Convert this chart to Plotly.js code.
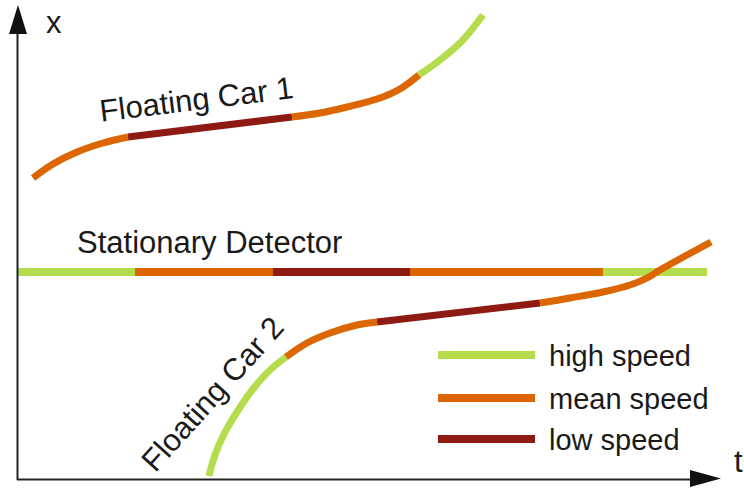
<!DOCTYPE html>
<html><head><meta charset="utf-8">
<script src="https://cdn.plot.ly/plotly-3.0.1.min.js"></script>
<style>html,body{margin:0;padding:0;background:#fff}#chart{width:744px;height:489px}</style>
</head><body><div id="chart"></div>
<script>
// Speed classes
const speedNames = ["high speed", "mean speed", "low speed"];
const speedColors = ["#b5dc4c", "#dc6602", "#8e1a14"];

// Floating Car 1 trajectory segments (t, x) with speed class index
const car1T = [[33, 53, 77, 103, 128], [128, 292], [292, 320, 347, 380, 400, 419], [419, 440, 460, 473, 483]];
const car1X = [[178, 164, 152, 143, 137], [137, 117], [117, 113, 107, 98, 89, 75], [75, 60, 43, 28, 15]];
const car1Speed = [1, 2, 1, 0];

// Stationary detector segments
const detT = [[18, 135], [135, 273], [273, 410], [410, 603], [603, 707]];
const detX = [[272, 272], [272, 272], [272, 272], [272, 272], [272, 272]];
const detSpeed = [0, 1, 2, 1, 0];

// Floating Car 2 trajectory segments
const car2T = [[209, 211, 215, 223, 237, 253, 270, 286], [286, 307, 330, 357, 377], [377, 540], [540, 570, 603, 630, 647, 660, 687, 711]];
const car2X = [[476, 468, 455, 436, 412, 389, 370, 357], [357, 343, 333, 325, 322], [322, 303], [303, 298, 292, 285, 278, 270, 255, 242]];
const car2Speed = [0, 1, 2, 1];

// Legend rows
const legendT = [438, 535];
const legendX = [355, 398, 439];

const traces = [];
function addSegs(T, X, S, w) {
  T.forEach((t, i) => traces.push({
    x: t, y: X[i], mode: "lines", type: "scatter", hoverinfo: "skip", showlegend: false,
    line: {color: speedColors[S[i]], width: w, shape: "spline", smoothing: 1}
  }));
}
addSegs(car1T, car1X, car1Speed, 7);
addSegs(detT, detX, detSpeed, 8);
addSegs(car2T, car2X, car2Speed, 7);
speedNames.forEach((n, i) => traces.push({
  x: legendT, y: [legendX[i], legendX[i]], mode: "lines", type: "scatter", hoverinfo: "skip", showlegend: false,
  line: {color: speedColors[i], width: 8}
}));

const font = {family: "Liberation Sans, Arial, sans-serif", size: 31, color: "#1a1a1a"};
const legFont = {family: "Liberation Sans, Arial, sans-serif", size: 29, color: "#1a1a1a"};
const annotations = [
  {x: 54, y: 22, text: "x", showarrow: false, xanchor: "center", yanchor: "middle", font: font},
  {x: 738, y: 461, text: "t", showarrow: false, xanchor: "center", yanchor: "middle", font: font},
  {x: 196, y: 99, text: "Floating Car 1", textangle: -7, showarrow: false, xanchor: "center", yanchor: "middle", font: font},
  {x: 209, y: 242, text: "Stationary Detector", showarrow: false, xanchor: "center", yanchor: "middle", font: font},
  {x: 212, y: 394, text: "Floating Car 2", textangle: -48, showarrow: false, xanchor: "center", yanchor: "middle", font: font}
];
speedNames.forEach((n, i) => annotations.push({
  x: 547, y: legendX[i] + 1, text: n, showarrow: false, xanchor: "left", yanchor: "middle", font: legFont
}));

const axisColor = "#222";
const shapes = [
  {type: "line", x0: 17.5, x1: 17.5, y0: 480, y1: 30, line: {color: axisColor, width: 2}},
  {type: "path", path: "M 9 34 L 27 34 L 18 5 Z", fillcolor: "#111", line: {width: 0}},
  {type: "line", x0: 17, x1: 692, y0: 479.5, y1: 479.5, line: {color: axisColor, width: 2}},
  {type: "path", path: "M 690 470 L 690 487 L 721 478.5 Z", fillcolor: "#111", line: {width: 0}}
];

const layout = {
  width: 744, height: 489,
  margin: {l: 0, r: 0, t: 0, b: 0},
  paper_bgcolor: "#fff", plot_bgcolor: "#fff",
  xaxis: {range: [0, 744], visible: false, fixedrange: true},
  yaxis: {range: [489, 0], visible: false, fixedrange: true},
  showlegend: false,
  annotations: annotations,
  shapes: shapes
};
Plotly.newPlot("chart", traces, layout, {staticPlot: true, displayModeBar: false});
</script></body></html>
